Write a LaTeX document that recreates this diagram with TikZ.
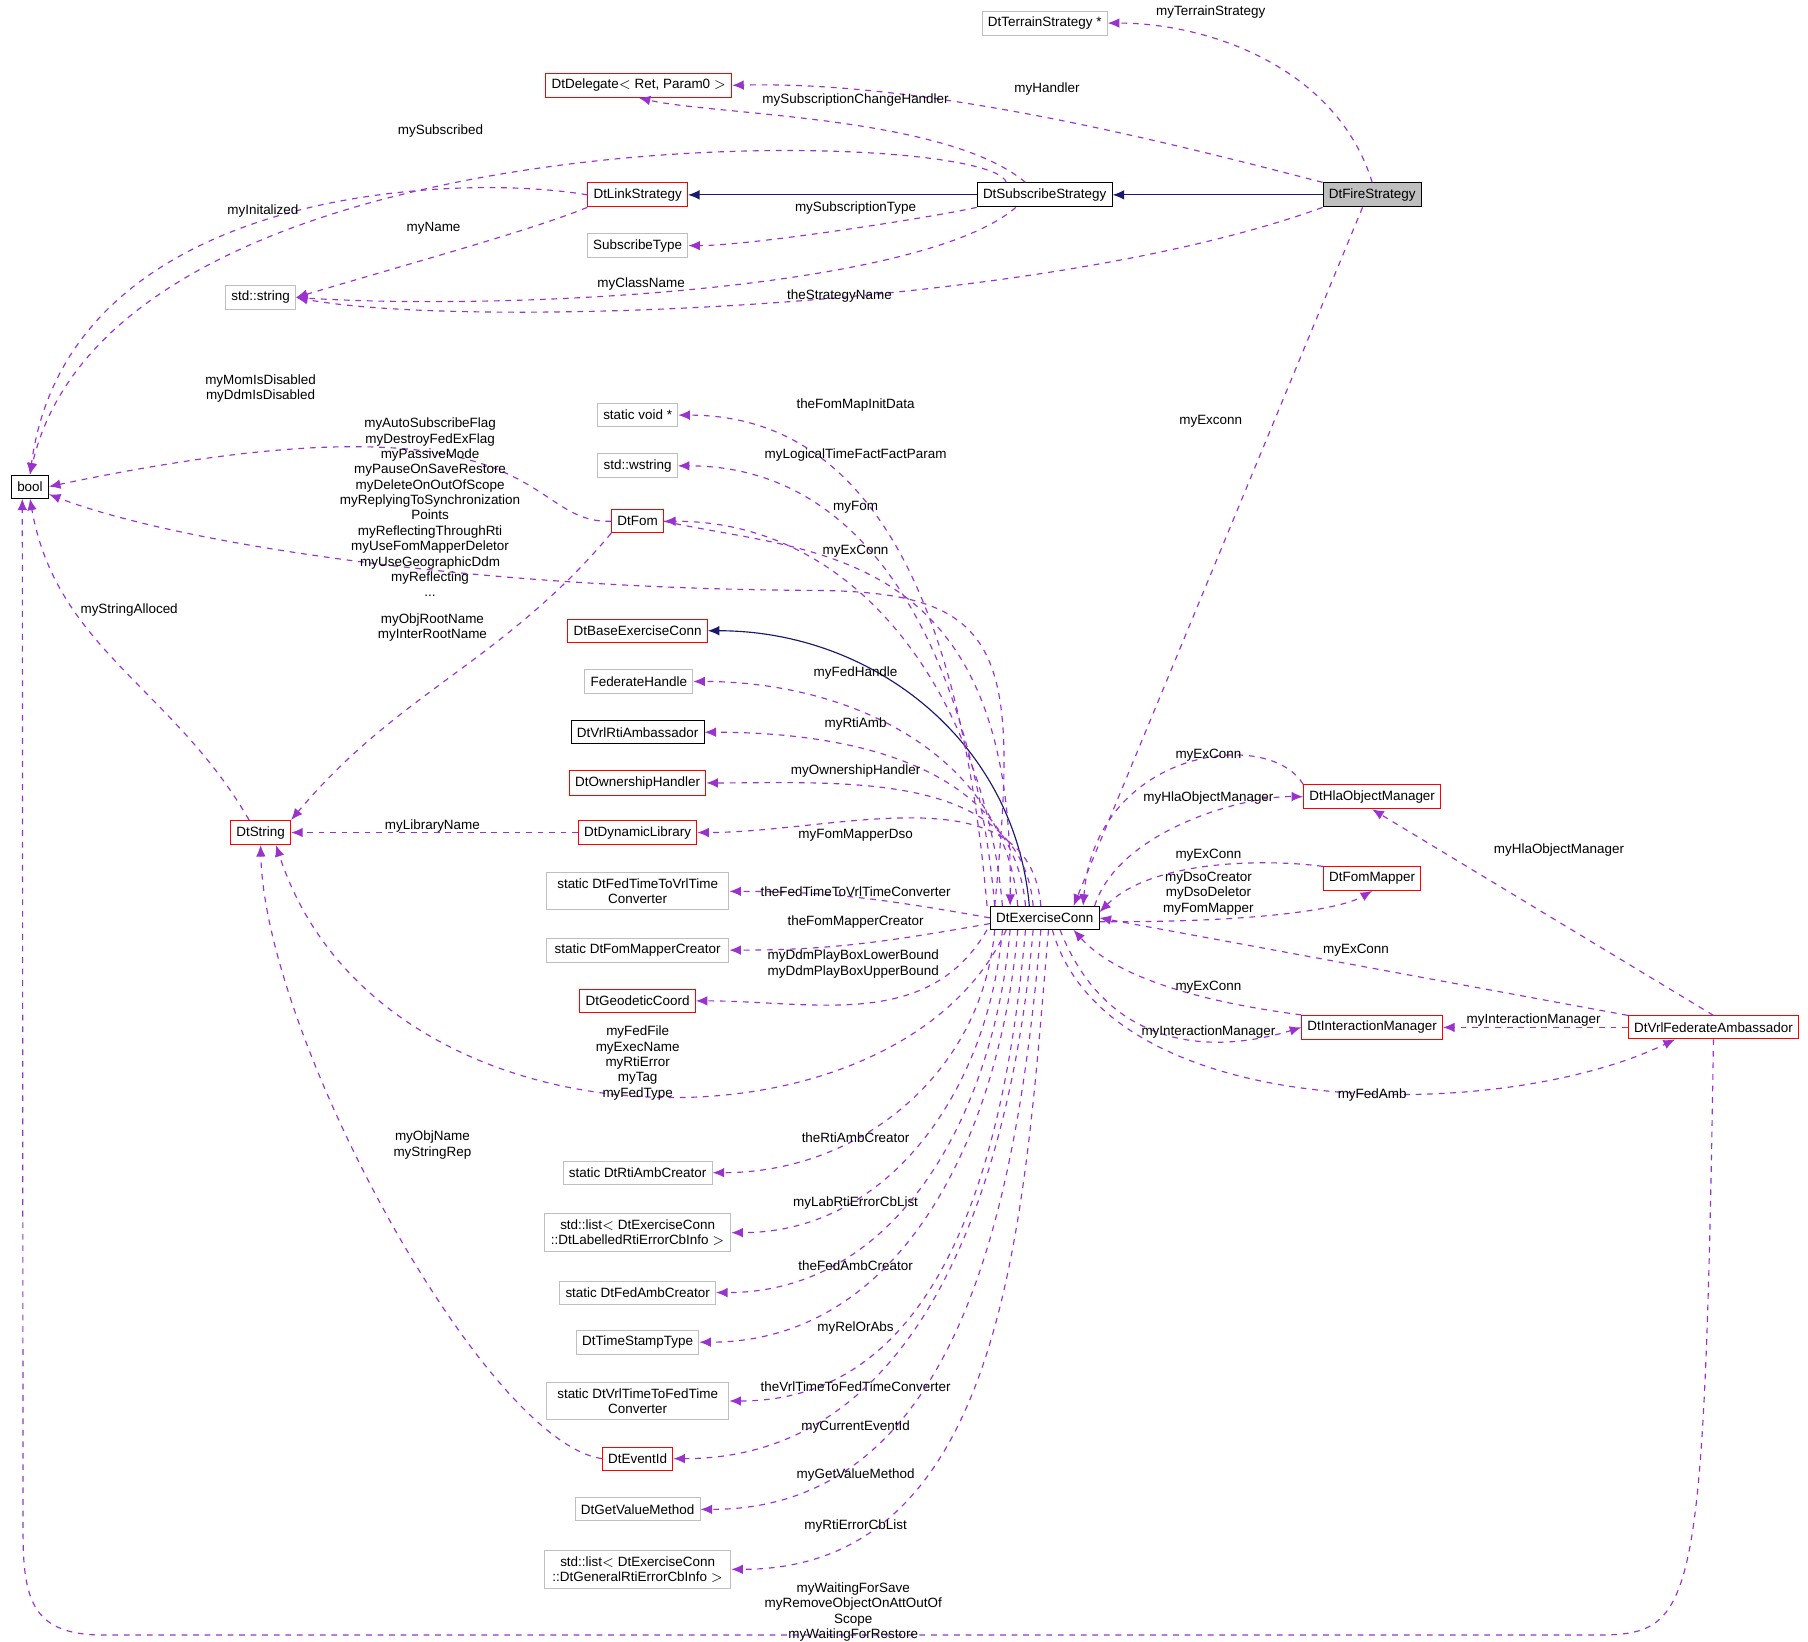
\documentclass[tikz,border=0pt]{standalone}
\usepackage{fontspec}
\setmainfont{Liberation Sans}
\usetikzlibrary{arrows.meta}
\definecolor{edgePurple}{HTML}{9A32CD}
\definecolor{edgeNavy}{HTML}{191970}
\definecolor{boxGray}{HTML}{BFBFBF}
\begin{document}
\begin{tikzpicture}[x=0.6pt, y=-0.6pt,
    every node/.style={font=\fontsize{7}{8}\selectfont},
    nodeStyle/.style={draw, rectangle, minimum height=12pt, inner sep=3pt, align=center, line width=0.5pt},
    redStyle/.style={nodeStyle, draw=red},
    grayStyle/.style={nodeStyle, draw=boxGray},
    blackStyle/.style={nodeStyle, draw=black},
    labelStyle/.style={align=center, inner sep=0pt},
    memberEdge/.style={draw=edgePurple, dashed, line width=0.6pt, -{Latex[length=6pt, width=5pt]}},
    inheritEdge/.style={draw=edgeNavy, line width=0.6pt, -{Latex[length=6pt, width=5pt]}}]
    \useasboundingbox (0,0) rectangle (1568,1424);

    % classes
    \node[grayStyle](ts) at (906,20) {DtTerrainStrategy *};
    \node[redStyle](dg) at (554,74) {DtDelegate$<$ Ret, Param0 $>$};
    \node[blackStyle](ss) at (906,169) {DtSubscribeStrategy};
    \node[blackStyle, fill=boxGray](fs) at (1190,169) {DtFireStrategy};
    \node[redStyle](ls) at (553,169) {DtLinkStrategy};
    \node[grayStyle](st) at (553,213) {SubscribeType};
    \node[grayStyle](str) at (226,258) {std::string};
    \node[blackStyle](bool) at (26,422) {bool};
    \node[grayStyle](sv) at (553,360) {static void *};
    \node[grayStyle](ws) at (553,404) {std::wstring};
    \node[redStyle](fom) at (553,452) {DtFom};
    \node[redStyle](bec) at (553,547) {DtBaseExerciseConn};
    \node[grayStyle](fh) at (554,591) {FederateHandle};
    \node[blackStyle](rti) at (553,635) {DtVrlRtiAmbassador};
    \node[redStyle](oh) at (553,679) {DtOwnershipHandler};
    \node[redStyle](dl) at (553,722) {DtDynamicLibrary};
    \node[grayStyle, minimum width=95pt](ftv) at (553,773) {static DtFedTimeToVrlTime\\Converter};
    \node[grayStyle, minimum width=95pt](fmc) at (553,824) {static DtFomMapperCreator};
    \node[redStyle](gc) at (553,868) {DtGeodeticCoord};
    \node[redStyle](dstr) at (226,722) {DtString};
    \node[blackStyle](ec) at (906,796) {DtExerciseConn};
    \node[redStyle](hom) at (1190,691) {DtHlaObjectManager};
    \node[redStyle](fm) at (1190,762) {DtFomMapper};
    \node[redStyle](im) at (1190,891) {DtInteractionManager};
    \node[redStyle](vfa) at (1486,891) {DtVrlFederateAmbassador};
    \node[grayStyle](rac) at (553,1017) {static DtRtiAmbCreator};
    \node[grayStyle, minimum width=97pt](lab) at (553,1069) {std::list$<$ DtExerciseConn\\::DtLabelledRtiErrorCbInfo $>$};
    \node[grayStyle](fac) at (553,1121) {static DtFedAmbCreator};
    \node[grayStyle](tst) at (553,1164) {DtTimeStampType};
    \node[grayStyle, minimum width=95pt](vtf) at (553,1215) {static DtVrlTimeToFedTime\\Converter};
    \node[redStyle](eid) at (553,1265) {DtEventId};
    \node[grayStyle](gvm) at (553,1309) {DtGetValueMethod};
    \node[grayStyle, minimum width=97pt](gen) at (553,1361) {std::list$<$ DtExerciseConn\\::DtGeneralRtiErrorCbInfo $>$};

    % inheritance
    \draw[inheritEdge] (fs) -- (ss);
    \draw[inheritEdge] (ss) -- (ls);
    \draw[inheritEdge] ([xshift=-8pt]ec.north) to[out=95, in=0] (bec.east);

    % strategy members
    \draw[memberEdge] (fs.north) .. controls (1160,60) and (1050,20) .. (ts.east);
    \draw[memberEdge] (fs.north west) .. controls (1000,120) and (800,70) .. (dg.east);
    \draw[memberEdge] ([xshift=-10pt]ss.north) .. controls (820,100) and (620,100) .. (dg.south);
    \draw[memberEdge] ([xshift=-20pt]ss.north) .. controls (860,110) and (100,90) .. (bool.north);
    \draw[memberEdge] (ls.west) .. controls (400,150) and (60,160) .. (bool.north);
    \draw[memberEdge] (ls.south west) .. controls (460,200) and (350,230) .. (str.east);
    \draw[memberEdge] (ss.south west) .. controls (800,190) and (650,213) .. (st.east);
    \draw[memberEdge] ([xshift=-15pt]ss.south) .. controls (800,250) and (450,270) .. (str.east);
    \draw[memberEdge] (fs.south west) .. controls (900,270) and (400,285) .. (str.east);
    \draw[memberEdge] ([xshift=-5pt]fs.south) -- ([xshift=15pt]ec.north);
    \node[labelStyle](l1) at (1050,10) {myTerrainStrategy};
    \node[labelStyle](l2) at (908,77) {myHandler};
    \node[labelStyle](l3) at (742,87) {mySubscriptionChangeHandler};
    \node[labelStyle](l4) at (382,114) {mySubscribed};
    \node[labelStyle](l5) at (228,183) {myInitalized};
    \node[labelStyle](l6) at (376,198) {myName};
    \node[labelStyle](l7) at (742,180) {mySubscriptionType};
    \node[labelStyle](l8) at (556,246) {myClassName};
    \node[labelStyle](l9) at (728,257) {theStrategyName};
    \node[labelStyle](l10) at (1050,365) {myExconn};

    % exercise connection members above
    \foreach \t/\s/\ly/\txt in {sv/-30/351/theFomMapInitData, ws/-26/395/myLogicalTimeFactFactParam,
        fom/-22/440/myFom, fh/-14/584/myFedHandle, rti/-10/628/myRtiAmb,
        oh/-6/669/myOwnershipHandler, dl/-2/724/myFomMapperDso}
        {\draw[memberEdge] ([xshift=\s pt]ec.north) to[out=95, in=0] (\t.east);
         \node[labelStyle](lab\t) at (742,\ly) {\txt};}
    \draw[memberEdge] (ec.west) to[out=170, in=0] (ftv.east);
    \draw[memberEdge] ([yshift=-3pt]ec.west) to[out=190, in=0] (fmc.east);
    \draw[memberEdge] ([xshift=-30pt]ec.south) to[out=240, in=0] (gc.east);
    \node[labelStyle](lftv) at (742,773) {theFedTimeToVrlTimeConverter};
    \node[labelStyle](lfmc) at (742,800) {theFomMapperCreator};
    \node[labelStyle](lgc) at (740,836) {myDdmPlayBoxLowerBound\\myDdmPlayBoxUpperBound};

    % exercise connection members below
    \foreach \t/\s/\ly/\txt in {rac/-26/987/theRtiAmbCreator, lab/-22/1043/myLabRtiErrorCbList,
        fac/-18/1098/theFedAmbCreator, tst/-14/1152/myRelOrAbs,
        vtf/-10/1203/theVrlTimeToFedTimeConverter, eid/-6/1238/myCurrentEventId,
        gvm/-2/1279/myGetValueMethod, gen/2/1323/myRtiErrorCbList}
        {\draw[memberEdge] ([xshift=\s pt]ec.south) to[out=265, in=0] (\t.east);
         \node[labelStyle](lab\t) at (742,\ly) {\txt};}

    % back references to the exercise connection
    \draw[memberEdge] (fom.east) .. controls (700,480) and (880,470) .. ([xshift=-18pt]ec.north);
    \node[labelStyle](lfx) at (742,478) {myExConn};
    \draw[memberEdge] (hom.north west) .. controls (1100,630) and (950,650) .. ([xshift=20pt]ec.north);
    \draw[memberEdge] ([xshift=26pt]ec.north) .. controls (970,720) and (1080,690) .. (hom.west);
    \draw[memberEdge] (fm.north west) .. controls (1100,745) and (1000,745) .. ([yshift=3pt]ec.east);
    \draw[memberEdge] ([yshift=-2pt]ec.east) .. controls (1080,800) and (1160,790) .. (fm.south);
    \draw[memberEdge] (vfa.north west) -- (ec.east);
    \draw[memberEdge] (im.north west) .. controls (1050,870) and (970,850) .. ([xshift=15pt]ec.south);
    \draw[memberEdge] ([xshift=8pt]ec.south) .. controls (960,910) and (1050,915) .. (im.west);
    \draw[memberEdge] ([xshift=4pt]ec.south) .. controls (960,975) and (1300,975) .. ([xshift=-20pt]vfa.south);
    \draw[memberEdge] (vfa.north) -- (hom.south);
    \draw[memberEdge] (vfa.west) -- (im.east);
    \node[labelStyle](lhx) at (1048,655) {myExConn};
    \node[labelStyle](lhm) at (1048,692) {myHlaObjectManager};
    \node[labelStyle](lfmx) at (1048,742) {myExConn};
    \node[labelStyle](lfmm) at (1048,775) {myDsoCreator\\myDsoDeletor\\myFomMapper};
    \node[labelStyle](lvx) at (1176,824) {myExConn};
    \node[labelStyle](lix) at (1048,856) {myExConn};
    \node[labelStyle](lim) at (1048,895) {myInteractionManager};
    \node[labelStyle](lfa) at (1190,950) {myFedAmb};
    \node[labelStyle](lvh) at (1352,737) {myHlaObjectManager};
    \node[labelStyle](lvi) at (1330,885) {myInteractionManager};

    % bool and string members
    \draw[memberEdge] (fom.west) .. controls (450,455) and (480,330) .. (bool.east);
    \node[labelStyle](lfb) at (226,337) {myMomIsDisabled\\myDdmIsDisabled};
    \draw[memberEdge] ([xshift=-26pt]ec.north) .. controls (885,560) and (870,512) .. (700,512)
        .. controls (400,510) and (150,470) .. ([yshift=-4pt]bool.east);
    \node[labelStyle](leb) at (373,440) {myAutoSubscribeFlag\\myDestroyFedExFlag\\myPassiveMode\\myPauseOnSaveRestore\\myDeleteOnOutOfScope\\myReplyingToSynchronization\\Points\\myReflectingThroughRti\\myUseFomMapperDeletor\\myUseGeographicDdm\\myReflecting\\...};
    \draw[memberEdge] ([xshift=-6pt]dstr.north) to[out=120, in=-80] (bool.south);
    \node[labelStyle](lsb) at (112,529) {myStringAlloced};
    \draw[memberEdge] (vfa.south) .. controls (1478,1410) and (1470,1418) .. (1380,1418) -- (90,1418)
        .. controls (30,1418) and (20,1390) .. (20,1330) -- ([xshift=-4pt]bool.south);
    \node[labelStyle](lvb) at (740,1398) {myWaitingForSave\\myRemoveObjectOnAttOutOf\\Scope\\myWaitingForRestore};
    \draw[memberEdge] (fom.south west) to[out=-130, in=50] (dstr.north east);
    \node[labelStyle](lfs) at (375,544) {myObjRootName\\myInterRootName};
    \draw[memberEdge] (dl.west) -- (dstr.east);
    \node[labelStyle](lds) at (375,716) {myLibraryName};
    \draw[memberEdge] ([xshift=-20pt]ec.south) .. controls (780,1010) and (330,1010) .. ([xshift=8pt]dstr.south);
    \node[labelStyle](les) at (553,922) {myFedFile\\myExecName\\myRtiError\\myTag\\myFedType};
    \draw[memberEdge] (eid.west) .. controls (420,1250) and (230,900) .. (dstr.south);
    \node[labelStyle](lis) at (375,993) {myObjName\\myStringRep};
\end{tikzpicture}
\end{document}
